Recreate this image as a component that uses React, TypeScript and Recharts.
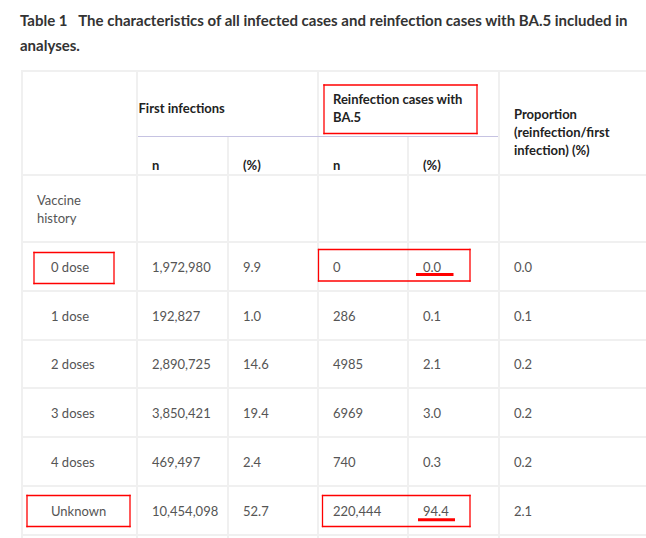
import { ScatterChart, Scatter, XAxis, YAxis, ReferenceLine } from 'recharts';

const title = ['Table 1\u2002 The characteristics of all infected cases and reinfection cases with BA.5 included in', 'analyses.'];

const vaccineHistory = ['0 dose', '1 dose', '2 doses', '3 doses', '4 doses', 'Unknown'];
const firstN = [1972980, 192827, 2890725, 3850421, 469497, 10454098];
const firstPct = [9.9, 1.0, 14.6, 19.4, 2.4, 52.7];
const reinfN = [0, 286, 4985, 6969, 740, 220444];
const reinfPct = [0.0, 0.1, 2.1, 3.0, 0.3, 94.4];
const proportion = [0.0, 0.1, 0.2, 0.2, 0.2, 2.1];

// layout of the table, in page pixels
const W = 646;
const H = 538;
const colEdge = [22, 137, 228, 318, 408, 499];
const rowEdge = [71, 175, 242, 291, 340, 388, 437, 486, 535];
const textX = [51, 152, 243, 333, 423, 514];
const FONT = 'Lato, "Open Sans", sans-serif';
const GRID = '#f0f0f0';
const RED = '#f00';

// red highlight boxes [x1, x2, y1, y2] and underlines [x1, x2, y]
const boxes = [
    [324, 477, 85, 133.5],
    [34, 114, 252.5, 283.5],
    [318.5, 470, 249.5, 281],
    [27, 130, 495.5, 526.5],
    [322.5, 470, 495.5, 526.5],
];
const underlines = [
    [416, 453.5, 274.5],
    [418, 455, 519.8],
];

const fmtN = (v: number) => (v >= 10000 ? v.toLocaleString('en-US') : String(v));

type Cell = { x: number; y: number; text: string; bold?: boolean };

const TextCell = (props: any) => {
    const { cx, cy, payload } = props;
    return (
        <text
            x={cx}
            y={cy}
            dominantBaseline="central"
            fontFamily={FONT}
            fontSize={13}
            fontWeight={payload.bold ? 700 : 400}
            fill={payload.bold ? '#222' : '#555'}
        >
            {payload.text}
        </text>
    );
};

const rowMid = (i: number) => (rowEdge[i + 2] + rowEdge[i + 3]) / 2;

const headerCells: Cell[] = [
    { x: 138.5, y: 108, text: 'First infections', bold: true },
    { x: textX[3], y: 98.5, text: 'Reinfection cases with', bold: true },
    { x: textX[3], y: 117, text: 'BA.5', bold: true },
    { x: textX[5], y: 113.5, text: 'Proportion', bold: true },
    { x: textX[5], y: 131.5, text: '(reinfection/first', bold: true },
    { x: textX[5], y: 149.5, text: 'infection) (%)', bold: true },
    { x: textX[1], y: 164.5, text: 'n', bold: true },
    { x: textX[2], y: 164.5, text: '(%)', bold: true },
    { x: textX[3], y: 164.5, text: 'n', bold: true },
    { x: textX[4], y: 164.5, text: '(%)', bold: true },
    { x: 37, y: 200, text: 'Vaccine' },
    { x: 37, y: 217.5, text: 'history' },
];

const bodyCells: Cell[] = vaccineHistory.flatMap((name, i) => [
    { x: textX[0], y: rowMid(i), text: name },
    { x: textX[1], y: rowMid(i), text: fmtN(firstN[i]) },
    { x: textX[2], y: rowMid(i), text: firstPct[i].toFixed(1) },
    { x: textX[3], y: rowMid(i), text: fmtN(reinfN[i]) },
    { x: textX[4], y: rowMid(i), text: reinfPct[i].toFixed(1) },
    { x: textX[5], y: rowMid(i), text: proportion[i].toFixed(1) },
]);

const vLines = [
    { x: colEdge[0], y1: rowEdge[0] },
    { x: colEdge[1], y1: rowEdge[0] },
    { x: colEdge[2], y1: 137 },
    { x: colEdge[3], y1: rowEdge[0] },
    { x: colEdge[4], y1: 137 },
    { x: colEdge[5], y1: rowEdge[0] },
];

const boxSegments = boxes.flatMap(([x1, x2, y1, y2]) => [
    [{ x: x1, y: y1 }, { x: x2, y: y1 }],
    [{ x: x1, y: y2 }, { x: x2, y: y2 }],
    [{ x: x1, y: y1 }, { x: x1, y: y2 }],
    [{ x: x2, y: y1 }, { x: x2, y: y2 }],
]);

export default function App() {
    return (
        <div style={{ position: 'absolute', left: 0, top: 0, width: W, height: H, background: '#fff' }}>
            <div
                style={{
                    position: 'absolute',
                    left: 20,
                    top: 8,
                    fontFamily: FONT,
                    fontWeight: 700,
                    fontSize: 15,
                    lineHeight: '25px',
                    color: '#333',
                    whiteSpace: 'nowrap',
                }}
            >
                {title.map((t) => (
                    <div key={t}>{t}</div>
                ))}
            </div>
            <ScatterChart width={W} height={H} margin={{ top: 0, right: 0, bottom: 0, left: 0 }}>
                <XAxis type="number" dataKey="x" domain={[0, W]} allowDataOverflow hide />
                <YAxis type="number" dataKey="y" domain={[0, H]} reversed allowDataOverflow hide />
                {rowEdge.map((y) => (
                    <ReferenceLine
                        key={'h' + y}
                        segment={[{ x: colEdge[0] - 1, y }, { x: W, y }]}
                        stroke={GRID}
                        strokeWidth={2}
                    />
                ))}
                {vLines.map((l) => (
                    <ReferenceLine
                        key={'v' + l.x}
                        segment={[{ x: l.x, y: l.y1 }, { x: l.x, y: H }]}
                        stroke={GRID}
                        strokeWidth={2}
                    />
                ))}
                <ReferenceLine segment={[{ x: colEdge[1] + 1, y: 136.5 }, { x: colEdge[5] - 1, y: 136.5 }]} stroke="#c6c3e2" strokeWidth={1} />

                {boxSegments.map((s, i) => (
                    <ReferenceLine key={'b' + i} segment={s} stroke={RED} strokeWidth={1.3} strokeLinecap="square" />
                ))}
                {underlines.map(([x1, x2, y], i) => (
                    <ReferenceLine key={'u' + i} segment={[{ x: x1, y }, { x: x2, y }]} stroke={RED} strokeWidth={3} />
                ))}

                <Scatter data={headerCells} shape={TextCell} isAnimationActive={false} />
                <Scatter data={bodyCells} shape={TextCell} isAnimationActive={false} />
            </ScatterChart>
        </div>
    );
}
